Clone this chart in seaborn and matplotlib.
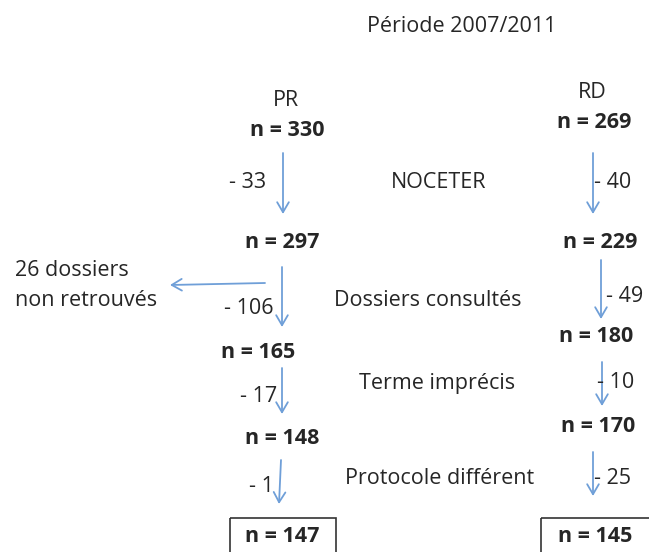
import matplotlib
matplotlib.use("Agg")
import matplotlib.pyplot as plt
import seaborn as sns

steps = ["NOCETER", "Dossiers consultés", "Terme imprécis", "Protocole différent"]
pr_counts = [330, 297, 165, 148, 147]
pr_drops = [33, 106, 17, 1]
rd_counts = [269, 229, 180, 170, 145]
rd_drops = [40, 49, 10, 25]
lost_files = 26

sns.set_theme(style="white")
plt.rcParams["font.family"] = ["Open Sans", "DejaVu Sans"]

fig = plt.figure(figsize=(6.49, 5.52), dpi=100)
ax = fig.add_axes([0, 0, 1, 1])
ax.set_xlim(0, 649)
ax.set_ylim(552, 0)
ax.axis("off")

blue = "#6f9fd8"
fs = 15.5
txt = "#262626"


def arrow(x0, y0, x1, y1):
    ax.annotate("", xy=(x1, y1), xytext=(x0, y0),
                arrowprops=dict(arrowstyle="->,head_length=0.6,head_width=0.35",
                                color=blue, lw=1.3, shrinkA=0, shrinkB=0))


ax.text(462, 27, "Période 2007/2011", ha="center", va="center", fontsize=fs, color=txt)

# column headers
ax.text(286, 100, "PR", ha="center", va="center", fontsize=fs, color=txt)
ax.text(592, 93, "RD", ha="center", va="center", fontsize=fs, color=txt)

# node positions (layout)
pr_nodes = [(287, 130), (282, 242), (258, 353), (282, 439), (282, 537)]
rd_nodes = [(594, 122), (600, 242), (596, 337), (598, 426), (595, 537)]
pr_arrows = [(283, 153, 283, 214), (282, 267, 282, 327), (282, 368, 282, 414), (281, 460, 279, 504)]
rd_arrows = [(593, 153, 593, 214), (601, 260, 601, 319), (602, 362, 602, 406), (593, 452, 593, 496)]
pr_lbl = [(266, 183), (273, 309), (277, 397), (274, 487)]
rd_lbl = [(594, 183), (606, 297), (597, 382), (594, 479)]
step_y = [183, 300, 383, 479]
step_x = [439, 428, 437, 440]

for i, (x, y) in enumerate(pr_nodes):
    ax.text(x, y, f"n = {pr_counts[i]}", ha="center", va="center",
            fontsize=fs, fontweight="bold", color=txt)
for i, (x, y) in enumerate(rd_nodes):
    ax.text(x, y, f"n = {rd_counts[i]}", ha="center", va="center",
            fontsize=fs, fontweight="bold", color=txt)

for i in range(len(steps)):
    arrow(*pr_arrows[i])
    arrow(*rd_arrows[i])
    x, y = pr_lbl[i]
    ax.text(x, y, f"- {pr_drops[i]}", ha="right", va="center", fontsize=fs, color=txt)
    x, y = rd_lbl[i]
    ax.text(x, y, f"- {rd_drops[i]}", ha="left", va="center", fontsize=fs, color=txt)
    ax.text(step_x[i], step_y[i], steps[i], ha="center", va="center", fontsize=fs, color=txt)

# files not found
arrow(265, 283, 170, 285)
ax.text(15, 270, f"{lost_files} dossiers", ha="left", va="center", fontsize=fs, color=txt)
ax.text(15, 300, "non retrouvés", ha="left", va="center", fontsize=fs, color=txt)

# final boxes
ax.add_patch(plt.Rectangle((230, 518), 106, 40, fill=False, ec="#333333", lw=1.2))
ax.add_patch(plt.Rectangle((541, 518), 115, 40, fill=False, ec="#333333", lw=1.2))

fig.savefig("out.png", dpi=100)
